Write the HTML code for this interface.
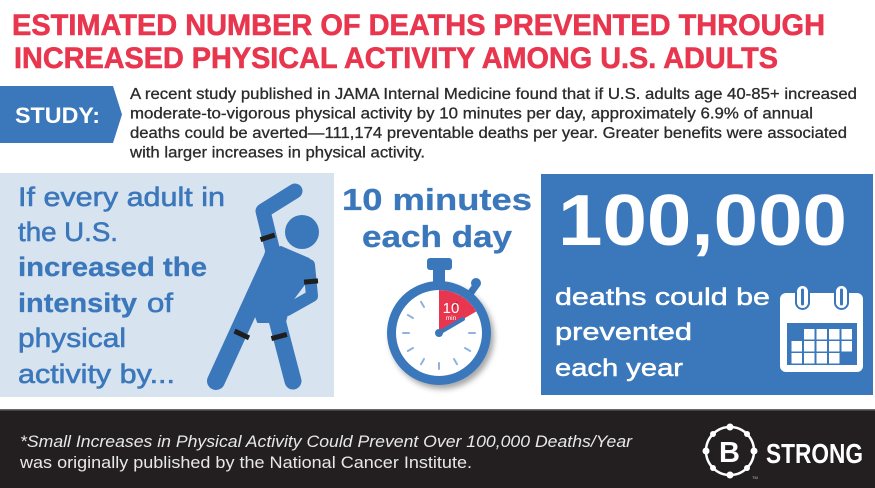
<!DOCTYPE html>
<html><head><meta charset="utf-8"><style>
html,body{margin:0;padding:0;background:#fff;}
body{width:875px;height:488px;overflow:hidden;}
svg{display:block;}
text{font-family:"Liberation Sans",sans-serif;}
</style></head><body>
<svg width="875" height="488" viewBox="0 0 875 488" xmlns="http://www.w3.org/2000/svg">
<defs>
<filter id="sh" x="-30%" y="-30%" width="160%" height="160%">
<feDropShadow dx="3" dy="4" stdDeviation="3" flood-color="#000" flood-opacity="0.35"/>
</filter>
</defs>
<rect width="875" height="488" fill="#fff"/>

<!-- Title -->
<g fill="#e8364f" stroke="#e8364f" stroke-width="0.6" font-weight="bold" font-size="30">
<text x="12" y="35" textLength="813" lengthAdjust="spacingAndGlyphs">ESTIMATED NUMBER OF DEATHS PREVENTED THROUGH</text>
<text x="14" y="68" textLength="764" lengthAdjust="spacingAndGlyphs">INCREASED PHYSICAL ACTIVITY AMONG U.S. ADULTS</text>
</g>

<!-- Study tag -->
<polygon points="0,86 113,86 122,114.5 113,143 0,143" fill="#3b77bb"/>
<text x="15" y="123" fill="#fff" font-weight="bold" font-size="22" textLength="85" lengthAdjust="spacingAndGlyphs">STUDY:</text>

<g fill="#2b2b2b" stroke="#2b2b2b" stroke-width="0.3" font-size="15.5">
<text x="130" y="99" textLength="727" lengthAdjust="spacingAndGlyphs">A recent study published in JAMA Internal Medicine found that if U.S. adults age 40-85+ increased</text>
<text x="130" y="118.5" textLength="683" lengthAdjust="spacingAndGlyphs">moderate-to-vigorous physical activity by 10 minutes per day, approximately 6.9% of annual</text>
<text x="130" y="138" textLength="717" lengthAdjust="spacingAndGlyphs">deaths could be averted—111,174 preventable deaths per year. Greater benefits were associated</text>
<text x="130" y="157.5" textLength="295" lengthAdjust="spacingAndGlyphs">with larger increases in physical activity.</text>
</g>

<!-- Left panel -->
<rect x="0" y="173" width="334" height="224" fill="#d8e3f0"/>
<g fill="#3b77bb" stroke="#3b77bb" font-size="27">
<text x="18" y="206" stroke-width="0.6" textLength="207" lengthAdjust="spacingAndGlyphs">If every adult in</text>
<text x="18" y="241" stroke-width="0.6" textLength="100" lengthAdjust="spacingAndGlyphs">the U.S.</text>
<text x="18" y="276" stroke-width="0.3" font-weight="bold" textLength="189" lengthAdjust="spacingAndGlyphs">increased the</text>
<text x="18" y="312" stroke-width="0.3" font-weight="bold" textLength="119" lengthAdjust="spacingAndGlyphs">intensity</text>
<text x="147" y="312" stroke-width="0.6" textLength="26" lengthAdjust="spacingAndGlyphs">of</text>
<text x="18" y="347" stroke-width="0.6" textLength="108" lengthAdjust="spacingAndGlyphs">physical</text>
<text x="18" y="383" stroke-width="0.6" textLength="157" lengthAdjust="spacingAndGlyphs">activity by...</text>
</g>

<!-- Figure -->
<g fill="#3b77bb" stroke="#3b77bb" stroke-linecap="round" stroke-linejoin="round">
<circle cx="302" cy="232" r="17" stroke="none"/>
<polyline points="273,252 263,211 295,191" fill="none" stroke-width="15"/>
<polygon points="266,252 281,247 309,259 305,283 290,303 285,322 258,322 250,300" stroke-width="2"/>
<polyline points="309,265 312,296 287,310" fill="none" stroke-width="12"/>
<line x1="271" y1="261" x2="216" y2="381" stroke-width="18"/>
<line x1="276" y1="316" x2="293" y2="381" stroke-width="17"/>
</g>
<g fill="#1e1e1e">
<rect x="260" y="235" width="15" height="5" transform="rotate(-18 267 237)"/>
<rect x="304" y="279" width="14" height="5" transform="rotate(-5 311 281)"/>
<rect x="234" y="332" width="16" height="5" transform="rotate(25 242 334)"/>
<rect x="271" y="334" width="16" height="5" transform="rotate(-15 279 336)"/>
</g>

<!-- Middle -->
<g fill="#3b77bb" stroke="#3b77bb" stroke-width="0.3" font-weight="bold" font-size="31">
<text x="342" y="210" textLength="190" lengthAdjust="spacingAndGlyphs">10 minutes</text>
<text x="362" y="247" textLength="150" lengthAdjust="spacingAndGlyphs">each day</text>
</g>

<!-- Stopwatch -->
<g>
<rect x="427" y="258" width="25" height="12" rx="3" fill="#3b77bb"/>
<rect x="433" y="268" width="12" height="16" fill="#3b77bb"/>
<rect x="470" y="282" width="7" height="14" fill="#3b77bb" transform="rotate(36 473.5 289)"/>
<circle cx="476" cy="283" r="5" fill="#3b77bb"/>
<circle cx="439" cy="333" r="52" fill="#3b77bb" filter="url(#sh)"/>
<circle cx="439" cy="333" r="43" fill="#fff"/>
<path d="M439,333 L439,290 A43,43 0 0,1 476.2,311.5 Z" fill="#e8364f"/>
<g stroke="#8fb3dc" stroke-width="2" stroke-linecap="round">
<line x1="469" y1="333" x2="475" y2="333"/>
<line x1="409" y1="333" x2="403" y2="333"/>
<line x1="439" y1="363" x2="439" y2="369"/>
<line x1="465" y1="348" x2="470.2" y2="351"/>
<line x1="454" y1="359" x2="457" y2="364.2"/>
<line x1="424" y1="359" x2="421" y2="364.2"/>
<line x1="413" y1="348" x2="407.8" y2="351"/>
<line x1="413" y1="318" x2="407.8" y2="315"/>
<line x1="424" y1="307" x2="421" y2="301.8"/>
</g>
<line x1="454" y1="307" x2="457" y2="301.8" stroke="#9a2a44" stroke-width="1.5"/>
<line x1="439" y1="333" x2="463" y2="319" stroke="#3b77bb" stroke-width="4" stroke-linecap="round"/>
<circle cx="439" cy="333" r="4" fill="#3b77bb"/>
<text x="451" y="313" fill="#fff" font-size="15" text-anchor="middle">10</text>
<text x="451" y="320" fill="#fff" font-size="6.5" text-anchor="middle">min</text>
</g>

<!-- Right panel -->
<rect x="541" y="174" width="332" height="221" fill="#3b77bb"/>
<text x="558" y="245" fill="#fff" font-weight="bold" font-size="72" textLength="289" lengthAdjust="spacingAndGlyphs">100,000</text>
<g fill="#fff" stroke="#fff" stroke-width="0.5" font-size="24">
<text x="555" y="305" textLength="215" lengthAdjust="spacingAndGlyphs">deaths could be</text>
<text x="555" y="340" textLength="137" lengthAdjust="spacingAndGlyphs">prevented</text>
<text x="555" y="376" textLength="128" lengthAdjust="spacingAndGlyphs">each year</text>
</g>

<!-- Calendar -->
<g>
<rect x="780" y="293" width="83" height="79" rx="6" fill="#fff"/>
<rect x="787" y="323" width="70" height="42" fill="#3b77bb"/>
<g fill="#fff">
<rect x="804" y="329" width="10.5" height="10.5"/>
<rect x="816.5" y="329" width="10.5" height="10.5"/>
<rect x="829" y="329" width="10.5" height="10.5"/>
<rect x="841.5" y="329" width="10.5" height="10.5"/>
<rect x="791.5" y="341" width="10.5" height="10.5"/>
<rect x="804" y="341" width="10.5" height="10.5"/>
<rect x="816.5" y="341" width="10.5" height="10.5"/>
<rect x="829" y="341" width="10.5" height="10.5"/>
<rect x="841.5" y="341" width="10.5" height="10.5"/>
<rect x="791.5" y="353" width="10.5" height="10.5"/>
<rect x="804" y="353" width="10.5" height="10.5"/>
<rect x="816.5" y="353" width="10.5" height="10.5"/>
<rect x="829" y="353" width="10.5" height="10.5"/>
</g>
<rect x="795" y="284" width="15" height="26" rx="7.5" fill="#3b77bb"/>
<rect x="797" y="286" width="11" height="22" rx="5.5" fill="#fff"/>
<line x1="802.5" y1="290" x2="802.5" y2="304" stroke="#3b77bb" stroke-width="3" stroke-linecap="round"/>
<rect x="834" y="284" width="15" height="26" rx="7.5" fill="#3b77bb"/>
<rect x="836" y="286" width="11" height="22" rx="5.5" fill="#fff"/>
<line x1="841.5" y1="290" x2="841.5" y2="304" stroke="#3b77bb" stroke-width="3" stroke-linecap="round"/>
</g>

<!-- Footer -->
<rect x="0" y="410" width="875" height="78" fill="#231f20"/>
<rect x="0" y="409" width="875" height="1.5" fill="#6a6a6a"/>
<text x="20" y="447" fill="#e8e8e8" font-style="italic" font-size="16.5" textLength="612" lengthAdjust="spacingAndGlyphs">*Small Increases in Physical Activity Could Prevent Over 100,000 Deaths/Year</text>
<text x="20" y="468" fill="#e8e8e8" font-size="16.5" textLength="452" lengthAdjust="spacingAndGlyphs">was originally published by the National Cancer Institute.</text>

<!-- B STRONG logo -->
<g>
<circle cx="730" cy="451" r="24" fill="none" stroke="#fff" stroke-width="2.5"/>
<g fill="#fff">
<circle cx="730" cy="427" r="3.5"/>
<circle cx="747" cy="434" r="3"/>
<circle cx="754" cy="451" r="3.5"/>
<circle cx="747" cy="468" r="3"/>
<circle cx="730" cy="475" r="3.5"/>
<circle cx="713" cy="468" r="3"/>
<circle cx="706" cy="451" r="3.5"/>
<circle cx="713" cy="434" r="3"/>
</g>
<text x="729.5" y="462" fill="#fff" font-weight="bold" font-size="29" text-anchor="middle">B</text>
<text x="752" y="479" fill="#bbb" font-size="4">TM</text>
<text x="766" y="463" fill="#fff" font-weight="bold" font-size="28" textLength="97" lengthAdjust="spacingAndGlyphs">STRONG</text>
</g>
</svg>
</body></html>
